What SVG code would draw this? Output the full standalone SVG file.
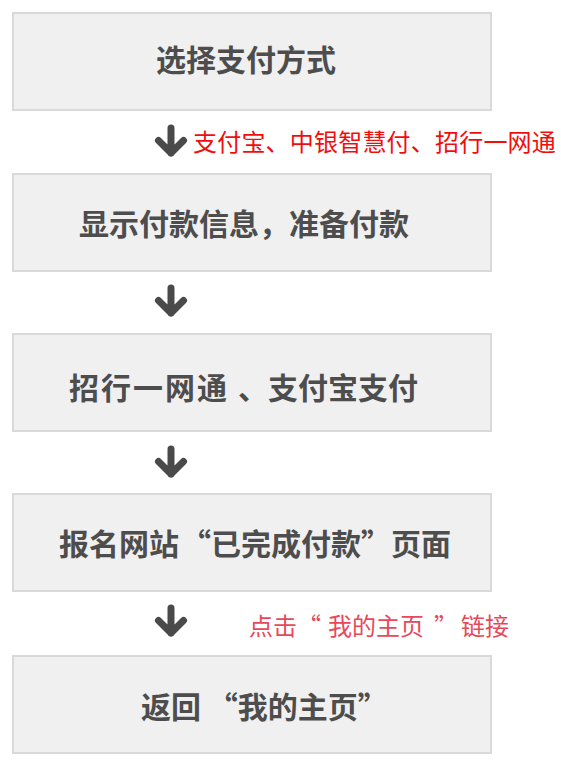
<svg xmlns="http://www.w3.org/2000/svg" width="561" height="760" viewBox="0 0 561 760">
<style>
.box{fill:#f0f0f0;stroke:#d9d9d9;stroke-width:2}
.t{font-family:"Noto Sans CJK SC","Noto Sans",sans-serif;font-size:30px;font-weight:bold;fill:#4d4d4d}
.r{font-family:"Noto Sans CJK SC","Noto Sans",sans-serif;font-size:24px;fill:#f20d0d;letter-spacing:0.2px}
.r2{font-family:"Noto Sans CJK SC","Noto Sans",sans-serif;font-size:24px;fill:#e8485a}
.arr{fill:none;stroke:#4a4a4a;stroke-width:7;stroke-linecap:round;stroke-linejoin:round}
</style>
<defs>
<path id="arrow" class="arr" d="M0,-13 V12 M-12.5,-0.5 L0,12 L12.5,-0.5"/>
</defs>
<rect width="561" height="760" fill="#ffffff"/>
<g id="node1"><rect class="box" x="13" y="13" width="478" height="97"/><text class="t" x="156" y="71">选择支付方式</text></g>
<g id="node2"><rect class="box" x="13" y="174" width="478" height="97"/><text class="t" x="79" y="235">显示付款信息，准备付款</text></g>
<g id="node3"><rect class="box" x="13" y="334" width="478" height="97"/><text class="t" y="399"><tspan x="69" textLength="158">招行一网通</tspan><tspan x="238">、支付宝支付</tspan></text></g>
<g id="node4"><rect class="box" x="13" y="494" width="478" height="97"/><text class="t" y="555"><tspan x="59">报名网站</tspan><tspan x="181">“已完成付款”</tspan><tspan x="391">页面</tspan></text></g>
<g id="node5"><rect class="box" x="13" y="656" width="478" height="97"/><text class="t" x="141" y="718">返回 “我的主页”</text></g>
<g id="connectors">
<use href="#arrow" x="171" y="141"/>
<use href="#arrow" x="171" y="301"/>
<use href="#arrow" x="171" y="462"/>
<use href="#arrow" x="171" y="621"/>
<text class="r" x="193" y="151">支付宝、中银智慧付、招行一网通</text>
<text class="r2" y="635"><tspan x="249">点击</tspan><tspan x="297">“</tspan><tspan x="328">我的主页</tspan><tspan x="434">”</tspan><tspan x="461">链接</tspan></text>
</g>
</svg>
